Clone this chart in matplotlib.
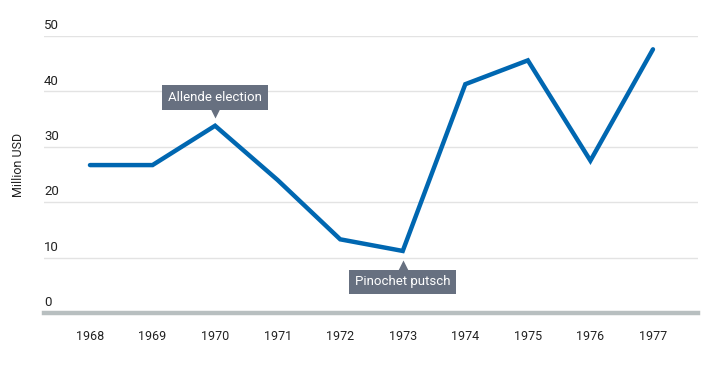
import matplotlib.pyplot as plt
import matplotlib.transforms as mtransforms

plt.rcParams['font.family'] = ['Roboto', 'DejaVu Sans']

years = [1968, 1969, 1970, 1971, 1972, 1973, 1974, 1975, 1976, 1977]
values = [26.7, 26.7, 33.8, 24.0, 13.3, 11.2, 41.3, 45.6, 27.5, 47.6]
yticks = [0, 10, 20, 30, 40, 50]
events = [(1970, "Allende election", "above"), (1973, "Pinochet putsch", "below")]

W, H = 711, 372
fig = plt.figure(figsize=(W / 100, H / 100), dpi=100)
# axes from x=44..698 px, y=36..313 px
ax = fig.add_axes([44 / W, (H - 313) / H, (698 - 44) / W, (313 - 36) / H])
ax.set_xlim(1967.265, 1977.72)
ax.set_ylim(0, 50)

for t in yticks[1:]:
    ax.axhline(t, color="#e3e3e3", lw=1.0, zorder=1)
ax.axhline(0, color="#b8bfc0", lw=3.2, zorder=2, clip_on=False)

trans = mtransforms.blended_transform_factory(ax.transAxes, ax.transData)
for t in yticks:
    ax.text(0, t + 0.7, str(t), transform=trans, ha="left", va="bottom",
            fontsize=9.5, color="#222222")

ax.plot(years, values, color="#0067b1", lw=3.2, solid_joinstyle="miter",
        solid_capstyle="round", zorder=3, clip_on=False)

for yr, label, where in events:
    v = values[years.index(yr)]
    if where == "above":
        ty, my, mk = v + 5.1, v + 2.3, "v"
    else:
        ty, my, mk = v - 5.6, v - 2.6, "^"
    ax.plot([yr], [my], marker=mk, ms=7, color="#677080", mec="none", zorder=4)
    ax.text(yr, ty, label, ha="center", va="center", fontsize=9.5, color="white",
            zorder=5, bbox=dict(boxstyle="square,pad=0.45", fc="#677080", ec="none"))

ax.set_xticks(years)
ax.set_xticklabels([str(y) for y in years], fontsize=9, color="#222222")
ax.tick_params(axis="x", length=0, pad=12)
ax.set_yticks([])
for s in ax.spines.values():
    s.set_visible(False)

fig.text(18 / W, 1 - 165 / H, "Million USD", rotation=90, ha="center", va="center",
         fontsize=9, color="#222222")

fig.savefig("out.png", dpi=100)
